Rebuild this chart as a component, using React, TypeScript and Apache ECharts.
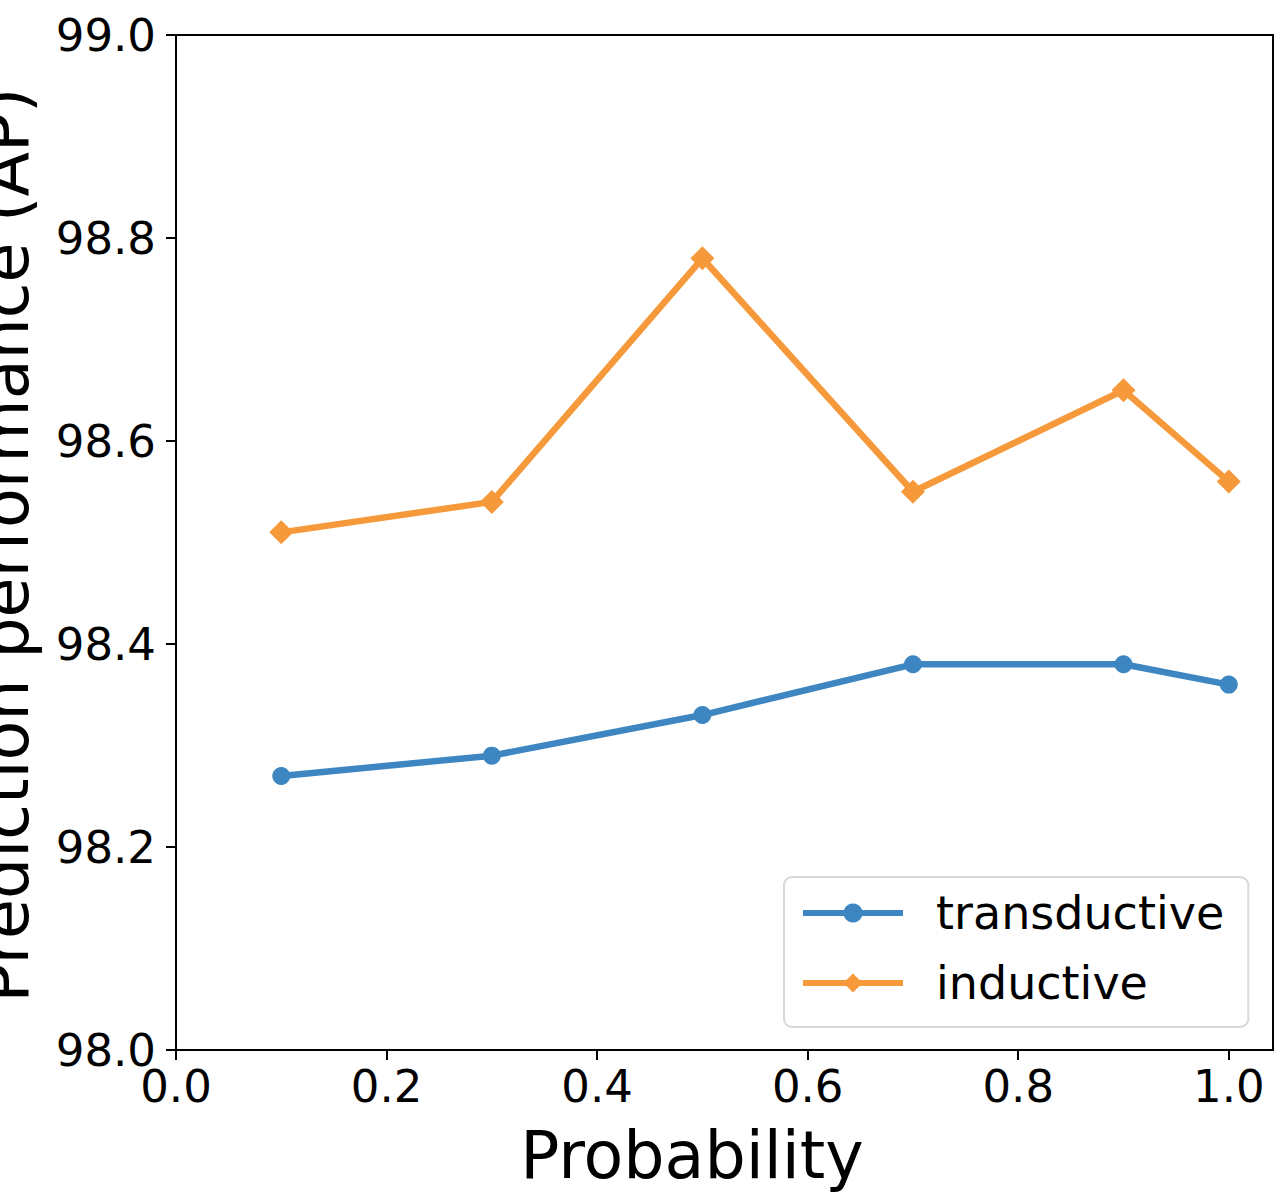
import React, { useEffect, useRef } from "react";
import * as echarts from "echarts";

const probabilities = [0.1, 0.3, 0.5, 0.7, 0.9, 1.0];
const transductive = [98.27, 98.29, 98.33, 98.38, 98.38, 98.36];
const inductive = [98.51, 98.54, 98.78, 98.55, 98.65, 98.56];
const xTicks = [0, 0.2, 0.4, 0.6, 0.8, 1.0];
const seriesNames = ["transductive", "inductive"];
const xLabel = "Probability";
const yLabel = "Prediction performance (AP)";

const FONT = "DejaVu Sans";
const BLUE = "#3d86c1";
const ORANGE = "#f6993a";

export default function App() {
  const ref = useRef<HTMLDivElement>(null);
  useEffect(() => {
    if (!ref.current) return;
    const chart = echarts.init(ref.current, null, { renderer: "svg" });
    const toPairs = (ys: number[]) => probabilities.map((x, i) => [x, ys[i]]);
    chart.setOption({
      animation: false,
      backgroundColor: "#ffffff",
      grid: {
        left: 176,
        right: 13,
        top: 35,
        bottom: 150,
        show: true,
        borderColor: "#000",
        borderWidth: 2,
        backgroundColor: "transparent",
      },
      xAxis: {
        type: "value",
        min: 0,
        max: 1.042,
        interval: 0.2,
        splitLine: { show: false },
        axisLine: { show: true, lineStyle: { color: "#000", width: 2 } },
        axisTick: {
          show: true,
          length: 10,
          lineStyle: { color: "#000", width: 2 },
          customValues: xTicks,
        },
        axisLabel: {
          color: "#000",
          fontFamily: FONT,
          fontSize: 45,
          margin: 14,
          customValues: xTicks,
          formatter: (v: number) => v.toFixed(1),
        },
      },
      yAxis: {
        type: "value",
        min: 98.0,
        max: 99.0,
        interval: 0.2,
        splitLine: { show: false },
        axisLine: { show: true, lineStyle: { color: "#000", width: 2 } },
        axisTick: { show: true, length: 10, lineStyle: { color: "#000", width: 2 } },
        axisLabel: {
          color: "#000",
          fontFamily: FONT,
          fontSize: 45,
          margin: 20,
          formatter: (v: number) => v.toFixed(1),
        },
      },
      legend: {
        left: 784,
        top: 877,
        orient: "vertical",
        backgroundColor: "#fff",
        borderColor: "#d8d8d8",
        borderWidth: 2,
        borderRadius: 8,
        padding: [11, 24, 19, 16],
        itemWidth: 100,
        itemHeight: 24,
        itemGap: 20,
        lineStyle: { width: 6 },
        textStyle: {
          fontFamily: FONT,
          fontSize: 46,
          color: "#000",
          lineHeight: 50,
          padding: [0, 0, 0, 28],
        },
        data: seriesNames,
      },
      graphic: [
        {
          type: "text",
          x: 692,
          y: 1155,
          style: {
            text: xLabel,
            font: `65px "${FONT}"`,
            fill: "#000",
            textAlign: "center",
            textVerticalAlign: "middle",
          },
        },
        {
          type: "text",
          x: 5,
          y: 545,
          rotation: Math.PI / 2,
          style: {
            text: yLabel,
            font: `65px "${FONT}"`,
            fill: "#000",
            textAlign: "center",
            textVerticalAlign: "middle",
          },
        },
      ],
      series: [
        {
          name: seriesNames[0],
          type: "line",
          data: toPairs(transductive),
          symbol: "circle",
          symbolSize: 18,
          showAllSymbol: true,
          lineStyle: { color: BLUE, width: 6.5 },
          itemStyle: { color: BLUE },
          z: 3,
        },
        {
          name: seriesNames[1],
          type: "line",
          data: toPairs(inductive),
          symbol: "diamond",
          symbolSize: 24,
          showAllSymbol: true,
          lineStyle: { color: ORANGE, width: 6.5 },
          itemStyle: { color: ORANGE },
          z: 3,
        },
      ],
    });
    return () => chart.dispose();
  }, []);
  return (
    <div
      ref={ref}
      style={{ position: "absolute", left: 0, top: 0, width: 1286, height: 1200 }}
    />
  );
}
